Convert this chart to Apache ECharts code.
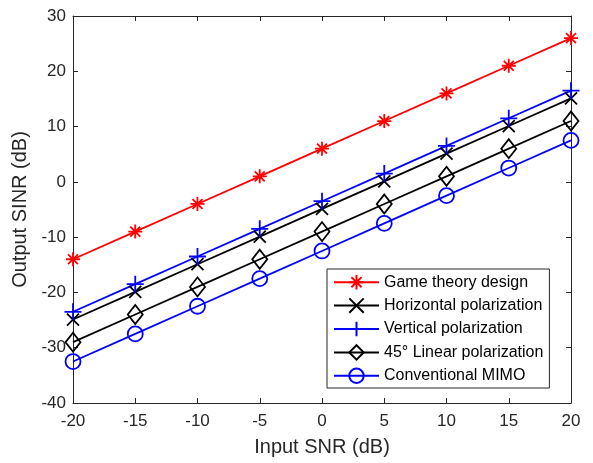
<!DOCTYPE html>
<html>
<head>
<meta charset="utf-8">
<script src="https://cdn.jsdelivr.net/npm/echarts@6/dist/echarts.min.js"></script>
<style>
html,body{margin:0;padding:0;background:#fff;}
#chart{width:593px;height:463px;}
</style>
</head>
<body>
<div id="chart"></div>
<script>
// Input SNR values (dB)
const inputSnr = [-20, -15, -10, -5, 0, 5, 10, 15, 20];

// Output SINR (dB) for each scheme
const gameTheory = [-14, -9, -4, 1, 6, 11, 16, 21, 26];
const horizontalPol = [-24.9, -19.9, -14.9, -9.9, -4.9, 0.1, 5.1, 10.1, 15.1];
const verticalPol = [-23.5, -18.5, -13.5, -8.5, -3.5, 1.5, 6.5, 11.5, 16.5];
const linear45Pol = [-29, -24, -19, -14, -9, -4, 1, 6, 11];
const conventionalMimo = [-32.5, -27.5, -22.5, -17.5, -12.5, -7.5, -2.5, 2.5, 7.5];

const seriesNames = [
  'Game theory design',
  'Horizontal polarization',
  'Vertical polarization',
  '45° Linear polarization',
  'Conventional MIMO'
];

// Stroke-only marker outlines
const SYM_STAR = 'path://M5,0L5,10M0,5L10,5M1.46,1.46L8.54,8.54M8.54,1.46L1.46,8.54';
const SYM_X = 'path://M0,0L10,10M10,0L0,10';
const SYM_PLUS = 'path://M5,0L5,10M0,5L10,5';

const AXIS_COLOR = '#262626';
const FONT = 'Liberation Sans, Arial, sans-serif';

function makeSeries(name, values, color, symbol, size) {
  return {
    name: name,
    type: 'line',
    data: inputSnr.map((x, i) => [x, values[i]]),
    symbol: symbol,
    symbolSize: size,
    showAllSymbol: true,
    lineStyle: { color: color, width: 1.8 },
    itemStyle: { color: 'rgba(255,255,255,0)', borderColor: color, borderWidth: 1.8 },
    emphasis: { disabled: true },
    animation: false,
    z: 3
  };
}

const chart = echarts.init(document.getElementById('chart'), null, { renderer: 'canvas' });

const axisLineStyle = { show: true, onZero: false, lineStyle: { color: AXIS_COLOR, width: 1 } };
const tickStyle = { inside: true, length: 5, lineStyle: { color: AXIS_COLOR } };

chart.setOption({
  backgroundColor: '#fff',
  animation: false,
  grid: { left: 73, right: 22, top: 16, bottom: 60, show: false },
  xAxis: [
    {
      type: 'value', min: -20, max: 20, interval: 5,
      name: 'Input SNR (dB)', nameLocation: 'middle', nameGap: 34,
      nameTextStyle: { color: AXIS_COLOR, fontSize: 20, fontFamily: FONT },
      axisLine: axisLineStyle, axisTick: tickStyle,
      axisLabel: { color: AXIS_COLOR, fontSize: 17, fontFamily: FONT, margin: 10 },
      splitLine: { show: false }
    },
    {
      type: 'value', min: -20, max: 20, interval: 5, position: 'top',
      axisLine: axisLineStyle, axisTick: tickStyle,
      axisLabel: { show: false }, splitLine: { show: false }
    }
  ],
  yAxis: [
    {
      type: 'value', min: -40, max: 30, interval: 10,
      name: 'Output SINR (dB)', nameLocation: 'middle', nameGap: 40, nameRotate: 90,
      nameTextStyle: { color: AXIS_COLOR, fontSize: 20, fontFamily: FONT },
      axisLine: axisLineStyle, axisTick: tickStyle,
      axisLabel: { color: AXIS_COLOR, fontSize: 17, fontFamily: FONT, margin: 7 },
      splitLine: { show: false }
    },
    {
      type: 'value', min: -40, max: 30, interval: 10, position: 'right',
      axisLine: axisLineStyle, axisTick: tickStyle,
      axisLabel: { show: false }, splitLine: { show: false }
    }
  ],
  legend: {
    orient: 'vertical',
    left: 327, top: 269,
    backgroundColor: '#fff',
    borderColor: AXIS_COLOR, borderWidth: 1, borderRadius: 0,
    padding: [5, 6, 4, 6],
    itemGap: 7,
    itemWidth: 45, itemHeight: 18,
    textStyle: { color: '#000', fontSize: 16, fontFamily: FONT },
    data: seriesNames
  },
  series: [
    makeSeries(seriesNames[0], gameTheory, '#ff0000', SYM_STAR, 14),
    makeSeries(seriesNames[1], horizontalPol, '#000000', SYM_X, 12),
    makeSeries(seriesNames[2], verticalPol, '#0000ff', SYM_PLUS, 17),
    makeSeries(seriesNames[3], linear45Pol, '#000000', 'diamond', [15, 19]),
    makeSeries(seriesNames[4], conventionalMimo, '#0000ff', 'circle', 15)
  ]
});
</script>
</body>
</html>
